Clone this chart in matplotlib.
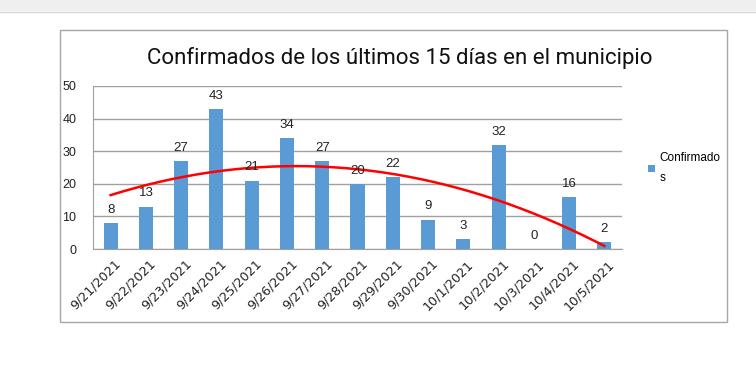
import matplotlib
matplotlib.use("Agg")
import matplotlib.pyplot as plt
import matplotlib.transforms as mtransforms
import numpy as np
from matplotlib.patches import Rectangle
from matplotlib.lines import Line2D

dates = ["9/21/2021", "9/22/2021", "9/23/2021", "9/24/2021", "9/25/2021",
         "9/26/2021", "9/27/2021", "9/28/2021", "9/29/2021", "9/30/2021",
         "10/1/2021", "10/2/2021", "10/3/2021", "10/4/2021", "10/5/2021"]
confirmados = [8, 13, 27, 43, 21, 34, 27, 20, 22, 9, 3, 32, 0, 16, 2]
title = "Confirmados de los últimos 15 días en el municipio"
legend_label = "Confirmado\ns"

W, H = 756, 374
fig = plt.figure(figsize=(W / 100, H / 100), dpi=100)
fig.patch.set_facecolor("white")

def fx(px):
    return px / W

def fy(py):
    return 1 - py / H

# top gray band
fig.patches.append(Rectangle((0, fy(11)), 1, 11 / H, transform=fig.transFigure,
                             facecolor="#efefef", edgecolor="none", zorder=0))
fig.lines.append(Line2D([0, 1], [fy(11.5), fy(11.5)], transform=fig.transFigure,
                        color="#d6d6d6", lw=1, zorder=0))
# chart frame
fig.patches.append(Rectangle((fx(60), fy(322)), (727 - 60) / W, (322 - 30) / H,
                             transform=fig.transFigure, facecolor="white",
                             edgecolor="#a6a6a6", lw=1, zorder=0))

ax = fig.add_axes([fx(93), fy(249), (622 - 93) / W, (249 - 86) / H])
ax.set_zorder(2)
ax.set_facecolor("none")
x = np.arange(len(dates))
bars = ax.bar(x, confirmados, width=0.4, color="#5b9bd5", zorder=3,
              label=legend_label)

# polynomial (order 2) trendline
coef = np.polyfit(x, confirmados, 2)
xt = np.linspace(x[0], x[-1], 200)
ax.plot(xt, np.polyval(coef, xt), color="#ff0000", lw=1.8, zorder=4)

for xi, v in zip(x, confirmados):
    ax.text(xi, v + 2.2, str(v), ha="center", va="bottom", fontsize=9.5,
            family="Liberation Sans", color="#222222", zorder=5)

ax.set_xlim(-0.5, len(dates) - 0.5)
ax.set_ylim(0, 50)
ax.set_yticks(range(0, 51, 10))
ax.yaxis.grid(True, color="#a0a0a0", lw=1)
ax.set_axisbelow(True)
for s in ["top", "right"]:
    ax.spines[s].set_visible(False)
ax.spines["left"].set_color("#a0a0a0")
ax.spines["bottom"].set_color("#a0a0a0")
ax.tick_params(axis="both", length=0, colors="#222222")
ax.tick_params(axis="y", pad=12, labelsize=9)
ax.tick_params(axis="x", pad=6, labelsize=9.2)
ax.set_xticks(x)
ax.set_xticklabels(dates, rotation=45, ha="right", rotation_mode="anchor",
                   family="DejaVu Sans")
offset = mtransforms.ScaledTranslation(3.5 / 100, 0, fig.dpi_scale_trans)
for lab in ax.get_xticklabels():
    lab.set_transform(lab.get_transform() + offset)
for lab in ax.get_yticklabels():
    lab.set_family("Liberation Sans")
    lab.set_horizontalalignment("right")

fig.text(fx(400), fy(58), title, ha="center", va="center", fontsize=16,
         family="Roboto", color="#111111")

leg = fig.legend(handles=[bars], labels=[legend_label], loc="upper left",
                 bbox_to_anchor=(fx(648), fy(152)), frameon=False,
                 prop={"family": "Liberation Sans", "size": 8.5},
                 handlelength=0.6, handleheight=0.6, handletextpad=0.4,
                 borderaxespad=0, borderpad=0)
for t in leg.get_texts():
    t.set_linespacing(1.9)
leg.set_zorder(3)

fig.savefig("out.png", dpi=100, facecolor="white")
